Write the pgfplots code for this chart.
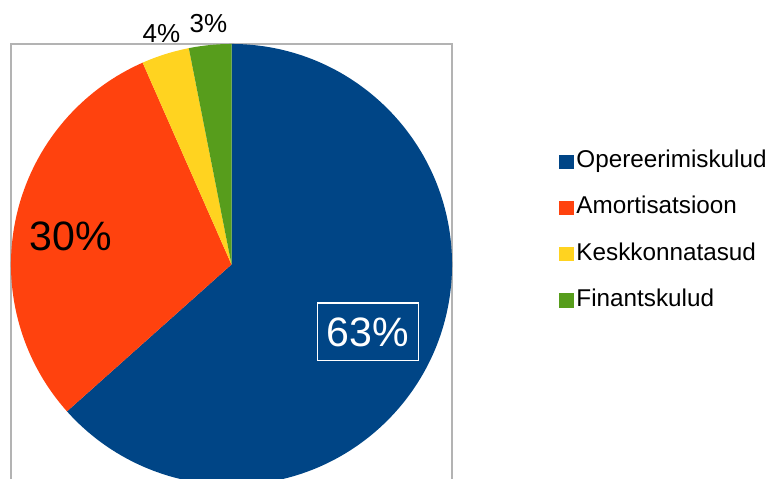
\documentclass[border=0pt]{standalone}
\usepackage{pgfplots}
\usepackage{pgfplotstable}
\pgfplotsset{compat=1.18}
\usepackage{fontspec}
\setmainfont{Liberation Sans}
\definecolor{cBlue}{HTML}{004586}
\definecolor{cOrange}{HTML}{FF420E}
\definecolor{cYellow}{HTML}{FFD320}
\definecolor{cGreen}{HTML}{579D1C}
\definecolor{cFrame}{HTML}{B3B3B3}

\pgfplotstableread{
label value color
Opereerimiskulud 63.4 cBlue
Amortisatsioon 30.0 cOrange
Keskkonnatasud 3.5 cYellow
Finantskulud 3.1 cGreen
}\piedata

\begin{document}
\begin{tikzpicture}
\begin{axis}[
  x=0.75pt, y=0.75pt,
  xmin=0, xmax=769, ymin=0, ymax=479,
  hide axis,
  legend style={at={(axis cs:555,332)}, anchor=north west, draw=none, fill=none,
    font=\fontsize{18.2}{22}\selectfont, row sep=17.4pt,
    nodes={text height=13.3pt, text depth=4pt, inner sep=0pt}},
  legend cell align=left,
  legend image code/.code={\fill[#1] (0pt,-5pt) rectangle (10pt,5pt);},
]
% frame
\draw[cFrame, line width=1.1pt] (axis cs:11,-10) -- (axis cs:11,435) -- (axis cs:452,435) -- (axis cs:452,-10);
% pie slices from table
\def\startang{90}
\pgfplotsforeachungrouped \i in {0,...,3}{%
  \pgfplotstablegetelem{\i}{value}\of\piedata \let\v\pgfplotsretval
  \pgfplotstablegetelem{\i}{color}\of\piedata \let\c\pgfplotsretval
  \pgfmathsetmacro\endang{\startang-3.6*\v}%
  \edef\temp{\noexpand\fill[\c] (axis cs:231.5,214.5) -- ++(\startang:165.4pt) arc[start angle=\startang, end angle=\endang, radius=165.4pt] -- cycle;}%
  \temp
  \global\let\startang\endang
}
% labels
\node[draw=white, line width=1.1pt, text=white, font=\fontsize{30.8}{36}\selectfont,
  text height=22pt, text depth=0pt, inner xsep=7pt, inner ysep=10.5pt]
  at (axis cs:367.9,147.3) {63\%};
\node[anchor=base, font=\fontsize{30.8}{36}\selectfont, inner sep=0pt] at (axis cs:71,228) {30\%};
\node[anchor=base, font=\fontsize{19.5}{23}\selectfont, inner sep=0pt] at (axis cs:161.5,436) {4\%};
\node[anchor=base, font=\fontsize{19.5}{23}\selectfont, inner sep=0pt] at (axis cs:208.5,446) {3\%};
% legend
\addlegendimage{cBlue}\addlegendentry{\hspace{2.5pt}Opereerimiskulud}
\addlegendimage{cOrange}\addlegendentry{\hspace{2.5pt}Amortisatsioon}
\addlegendimage{cYellow}\addlegendentry{\hspace{2.5pt}Keskkonnatasud}
\addlegendimage{cGreen}\addlegendentry{\hspace{2.5pt}Finantskulud}
\end{axis}
\pgfresetboundingbox
\useasboundingbox (current axis.south west) rectangle (current axis.north east);
\end{tikzpicture}
\end{document}
